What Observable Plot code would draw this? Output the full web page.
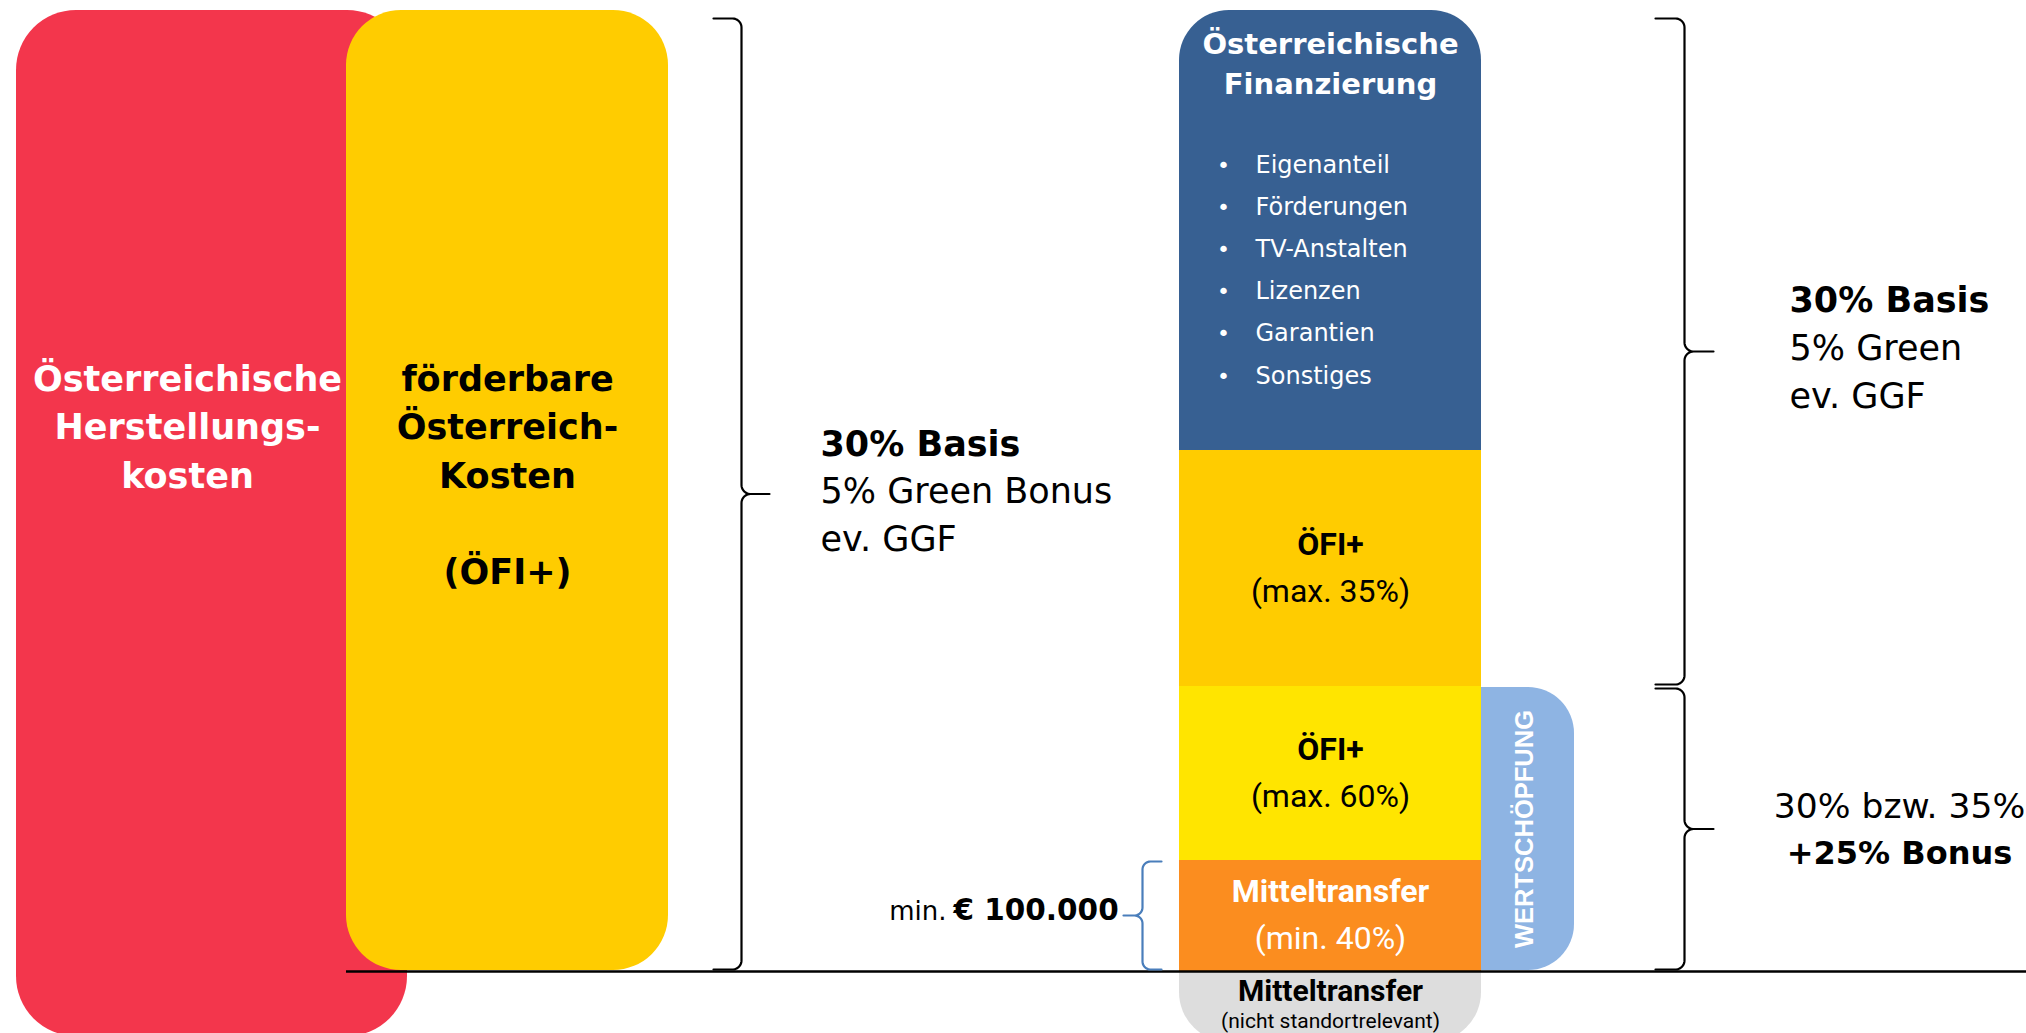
<!DOCTYPE html>
<html>
<head>
<meta charset="utf-8">
<script src="https://cdn.jsdelivr.net/npm/d3@7"></script>
<script src="https://cdn.jsdelivr.net/npm/@observablehq/plot@0.6"></script>
<style>
  html, body { margin: 0; padding: 0; background: #ffffff; overflow: hidden; }
  #chart svg { display: block; overflow: hidden; }
</style>
</head>
<body>
<div id="chart"></div>
<script>
// ------------------------------------------------------------------
// DATA (vertical unit = 1 px, 0 = base line)
// ------------------------------------------------------------------
const costLines      = ["Österreichische", "Herstellungs-", "kosten"];
const eligibleLines  = ["förderbare", "Österreich-", "Kosten", "", "(ÖFI+)"];

// central financing column, from bottom to top
const stackNames     = ["Mitteltransfer", "ÖFI+", "ÖFI+", "Österreichische Finanzierung"];
const stackShares    = ["(min. 40%)", "(max. 60%)", "(max. 35%)", ""];
const stackHeights   = [111, 174, 236, 440];

// part below the base line
const outsideName    = "Mitteltransfer";
const outsideShare   = "(nicht standortrelevant)";
const outsideHeight  = 71;

const financingItems = ["Eigenanteil", "Förderungen", "TV-Anstalten", "Lizenzen", "Garantien", "Sonstiges"];
const sideLabel      = "WERTSCHÖPFUNG";
const minLabel       = ["min.", "€ 100.000"];

const leftRate       = ["30% Basis", "5% Green Bonus", "ev. GGF"];
const upperRate      = ["30% Basis", "5% Green", "ev. GGF"];
const lowerRate      = ["30% bzw. 35%", "+25% Bonus"];
const rateBold       = [[true, false, false], [true, false, false], [false, true]];

// extents of the big blocks (below / above the base line)
const costExtent     = [-65, 961];
const eligibleExtent = [1, 961];

// ------------------------------------------------------------------
// LAYOUT & STYLE
// ------------------------------------------------------------------
const W = 2026, H = 1033;
const palette = {
  cost: "#F3364C",
  eligible: "#FFCC00",
  stack: ["#FB8D1F", "#FFE500", "#FFCC00", "#376092"],
  stackInk: ["#ffffff", "#000000", "#000000", "#ffffff"],
  outside: "#DDDDDD",
  side: "#8EB4E3",
  brace: "#000000",
  smallBrace: "#4A7EBB"
};
const layout = {
  cost:     {x1: 16,   x2: 407,  r: 60, labelX: 187},
  eligible: {x1: 346,  x2: 668,  r: 55, labelX: 507},
  column:   {x1: 1179, x2: 1481, r: 50, labelX: 1330},
  side:     {x1: 1400, x2: 1574, r: 46, labelX: 1524},
  outsideR: 50,
  baseX:    [346, 2026],
  blockTop: 580.5, blockStep: 48.3,
  titleOffsets: [43, 83],
  bulletX: 1223, itemX: 1255, itemTop: 799, itemStep: 42.2,
  nameOffset: 14, shareOffset: -33,
  outsideBase: [-29, -56],
  leftRate:  {x: 820,  top: 516, step: 47.5, anchor: "start"},
  upperRate: {x: 1789, top: 660, step: 48,   anchor: "start"},
  lowerRate: {x: 1899, top: 154, step: 46,   anchor: "middle"},
  minX: [946, 953], minY: 52,
  braces: [
    {span: [2, 953],   spine: 741,  dir: 1,  hook: 28, tip: 28, r: 9,  color: palette.brace},
    {span: [287, 953], spine: 1684, dir: 1,  hook: 29, tip: 29, r: 9,  color: palette.brace},
    {span: [2, 283],   spine: 1684, dir: 1,  hook: 29, tip: 29, r: 9,  color: palette.brace},
    {span: [2, 110],   spine: 1142, dir: -1, hook: 19, tip: 19, r: 8,  color: palette.smallBrace}
  ]
};
const geo = "DejaVu Sans, Lato, sans-serif";
const cal = "Roboto, Open Sans, sans-serif";

// ------------------------------------------------------------------
// DERIVED TABLES
// ------------------------------------------------------------------
const tops = Array.from(d3.cumsum(stackHeights));
const colTop = tops[tops.length - 1];
const segments = stackNames.map((name, i) => ({
  name, share: stackShares[i],
  y1: tops[i] - stackHeights[i], y2: tops[i],
  mid: tops[i] - stackHeights[i] / 2,
  fill: palette.stack[i], ink: palette.stackInk[i]
}));
const lowerSegments = segments.slice(0, 3);
const finSegment = segments[3];

const blocks = [
  {x1: layout.cost.x1, x2: layout.cost.x2, y1: costExtent[0], y2: costExtent[1], fill: palette.cost},
  {x1: layout.eligible.x1, x2: layout.eligible.x2, y1: eligibleExtent[0], y2: eligibleExtent[1], fill: palette.eligible}
];

const lines = (texts, x, top, step) => texts.map((text, i) => ({text, x, y: top - i * step}));

const costText = lines(costLines, layout.cost.labelX, layout.blockTop, layout.blockStep);
const eligibleText = lines(eligibleLines, layout.eligible.labelX, layout.blockTop, layout.blockStep);
const titleText = finSegment.name.split(" ").map((text, i) => ({text, x: layout.column.labelX, y: colTop - layout.titleOffsets[i]}));
const itemText = financingItems.map((text, i) => ({text, y: layout.itemTop - i * layout.itemStep}));

const segNames = lowerSegments.map(s => ({text: s.name, x: layout.column.labelX, y: s.mid + layout.nameOffset, ink: s.ink}));
const segShares = lowerSegments.map(s => ({text: s.share, x: layout.column.labelX, y: s.mid + layout.shareOffset, ink: s.ink}));

const rateBlocks = [
  [leftRate, layout.leftRate, rateBold[0]],
  [upperRate, layout.upperRate, rateBold[1]],
  [lowerRate, layout.lowerRate, rateBold[2]]
].flatMap(([texts, L, bold]) => texts.map((text, i) => ({text, x: L.x, y: L.top - i * L.step, anchor: L.anchor, bold: bold[i]})));

function bracePoints(b, id) {
  const pts = [];
  const [yBot, yTop] = b.span;
  const ym = (yBot + yTop) / 2, r = b.r, N = 10;
  const P = (ox, y) => pts.push({id, x: b.spine + b.dir * ox, y, color: b.color});
  const q = i => i / N * Math.PI / 2;
  P(-b.hook, yTop);
  for (let i = 0; i <= N; i++) P(-r + r * Math.sin(q(i)), yTop - r + r * Math.cos(q(i)));
  for (let i = 0; i <= N; i++) P(r - r * Math.cos(q(i)), ym + r - r * Math.sin(q(i)));
  P(b.tip, ym);
  P(r, ym);
  for (let i = 0; i <= N; i++) P(r - r * Math.sin(q(i)), ym - r + r * Math.cos(q(i)));
  for (let i = 0; i <= N; i++) P(-r + r * Math.cos(q(i)), yBot + r - r * Math.sin(q(i)));
  P(-b.hook, yBot);
  return pts;
}
const bracePts = layout.braces.flatMap((b, i) => bracePoints(b, i));

// ------------------------------------------------------------------
// PLOT
// ------------------------------------------------------------------
const C = layout.column;
const chart = Plot.plot({
  width: W, height: H,
  marginTop: 0, marginRight: 0, marginBottom: 0, marginLeft: 0,
  x: {domain: [0, W], range: [0, W], axis: null},
  y: {domain: [-62, 971], range: [H, 0], axis: null},
  color: {type: "identity"},
  style: {background: "#ffffff", overflow: "hidden"},
  marks: [
    // large blocks
    Plot.rect([blocks[0]], {x1: "x1", x2: "x2", y1: "y1", y2: "y2", fill: "fill", rx: layout.cost.r}),
    Plot.rect([blocks[1]], {x1: "x1", x2: "x2", y1: "y1", y2: "y2", fill: "fill", rx: layout.eligible.r}),
    // part below the base line (top hidden under column)
    Plot.rect([{y1: -outsideHeight, y2: tops[0] / 2}], {x1: C.x1, x2: C.x2, y1: "y1", y2: "y2", fill: palette.outside, rx: layout.outsideR}),
    // Wertschöpfung tab (left part hidden under column)
    Plot.rect([{y1: 1, y2: tops[1] - 1}], {x1: layout.side.x1, x2: layout.side.x2, y1: "y1", y2: "y2", fill: palette.side, rx: layout.side.r}),
    // financing segment with rounded top
    Plot.rect([finSegment], {x1: C.x1, x2: C.x2, y1: d => d.y1 - 100, y2: "y2", fill: "fill", rx: C.r}),
    // remaining stacked segments
    Plot.rect(lowerSegments, {x1: C.x1, x2: C.x2, y1: "y1", y2: "y2", fill: "fill"}),
    // base line
    Plot.ruleY([0], {x1: layout.baseX[0], x2: layout.baseX[1], stroke: "#000000", strokeWidth: 2.5}),
    // braces
    Plot.line(bracePts, {x: "x", y: "y", z: "id", stroke: "color", strokeWidth: 2.2, strokeLinejoin: "round", strokeLinecap: "round"}),

    // block labels
    Plot.text(costText, {x: "x", y: "y", text: "text", fill: "#ffffff", fontFamily: geo, fontWeight: "bold", fontSize: 35, lineAnchor: "bottom"}),
    Plot.text(eligibleText, {x: "x", y: "y", text: "text", fill: "#000000", fontFamily: geo, fontWeight: "bold", fontSize: 35, lineAnchor: "bottom"}),
    // financing title & items
    Plot.text(titleText, {x: "x", y: "y", text: "text", fill: "#ffffff", fontFamily: geo, fontWeight: "bold", fontSize: 29, lineAnchor: "bottom"}),
    Plot.text(itemText, {x: layout.bulletX, y: "y", text: () => "•", fill: "#ffffff", fontFamily: geo, fontSize: 22, lineAnchor: "bottom"}),
    Plot.text(itemText, {x: layout.itemX, y: "y", text: "text", fill: "#ffffff", fontFamily: geo, fontSize: 24, textAnchor: "start", lineAnchor: "bottom"}),
    // segment labels
    Plot.text(segNames, {x: "x", y: "y", text: "text", fill: "ink", fontFamily: cal, fontWeight: "bold", fontSize: 32, lineAnchor: "bottom"}),
    Plot.text(segShares, {x: "x", y: "y", text: "text", fill: "ink", fontFamily: cal, fontSize: 32, lineAnchor: "bottom"}),
    // outside part labels
    Plot.text([outsideName], {x: C.labelX, y: layout.outsideBase[0], fill: "#000000", fontFamily: cal, fontWeight: "bold", fontSize: 30, lineAnchor: "bottom"}),
    Plot.text([outsideShare], {x: C.labelX, y: layout.outsideBase[1], fill: "#000000", fontFamily: cal, fontSize: 21, lineAnchor: "bottom"}),
    // Wertschöpfung
    Plot.text([sideLabel], {x: layout.side.labelX, y: tops[1] / 2, rotate: -90, fill: "#ffffff", fontFamily: "Liberation Sans, Arial, sans-serif", fontWeight: 900, fontSize: 25.5}),
    // min. € 100.000
    Plot.text([minLabel[0]], {x: layout.minX[0], y: layout.minY, fill: "#000000", fontFamily: geo, fontSize: 26, textAnchor: "end", lineAnchor: "bottom"}),
    Plot.text([minLabel[1]], {x: layout.minX[1], y: layout.minY, fill: "#000000", fontFamily: geo, fontWeight: "bold", fontSize: 29.5, textAnchor: "start", lineAnchor: "bottom"}),
    // rate annotations
    Plot.text(rateBlocks.filter(d => d.anchor === "start" && d.bold), {x: "x", y: "y", text: "text", fontFamily: geo, fontWeight: "bold", fontSize: 35, fill: "#000000", textAnchor: "start", lineAnchor: "bottom"}),
    Plot.text(rateBlocks.filter(d => d.anchor === "start" && !d.bold), {x: "x", y: "y", text: "text", fontFamily: geo, fontSize: 35, fill: "#000000", textAnchor: "start", lineAnchor: "bottom"}),
    Plot.text(rateBlocks.filter(d => d.anchor === "middle" && d.bold), {x: "x", y: "y", text: "text", fontFamily: geo, fontWeight: "bold", fontSize: 32, fill: "#000000", textAnchor: "middle", lineAnchor: "bottom"}),
    Plot.text(rateBlocks.filter(d => d.anchor === "middle" && !d.bold), {x: "x", y: "y", text: "text", fontFamily: geo, fontSize: 34.5, fill: "#000000", textAnchor: "middle", lineAnchor: "bottom"})
  ]
});
document.getElementById("chart").appendChild(chart);
</script>
</body>
</html>
